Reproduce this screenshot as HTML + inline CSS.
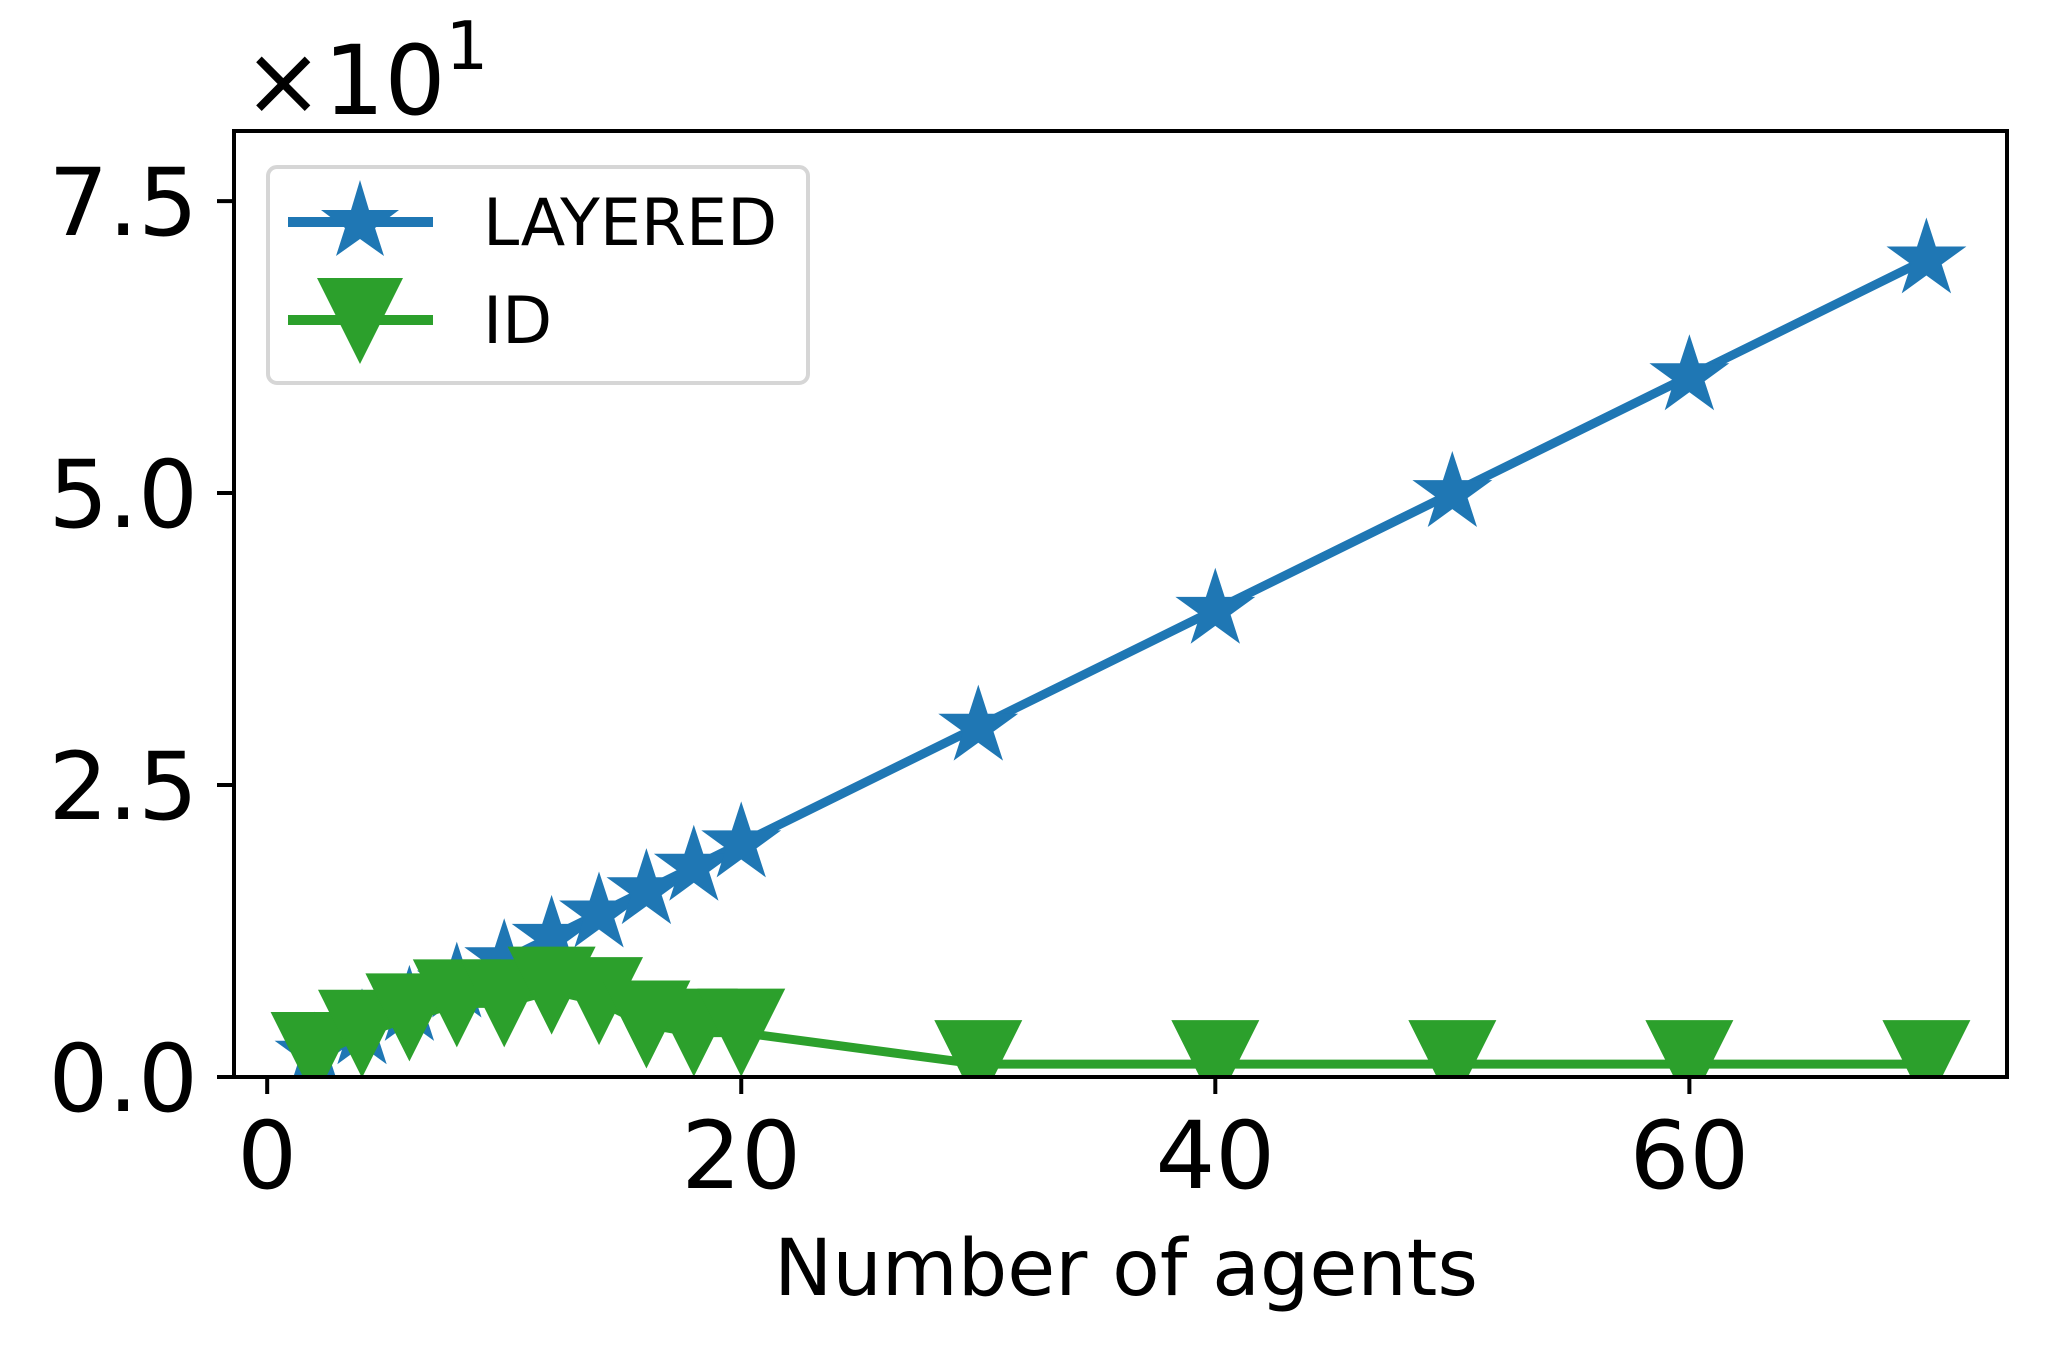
<!DOCTYPE html>
<html><head><meta charset="utf-8"><style>
html,body{margin:0;padding:0;background:#fff}
svg{display:block}
text{font-family:"DejaVu Sans","Liberation Sans",sans-serif;fill:#000}
</style></head><body>
<svg id="chart" width="2048" height="1348" viewBox="0 0 2048 1348" xmlns="http://www.w3.org/2000/svg">
<rect width="2048" height="1348" fill="#fff"/>
<g id="plot"></g>
<g id="axes"></g>
</svg>
<script>
const xValues = [2,4,6,8,10,12,14,16,18,20,30,40,50,60,70];
const layeredValues = [2,4,6,8,10,12,14,16,18,20,30,40,50,60,70];
const idValues = [1.8,3.7,5.1,6.3,6.3,7.4,6.5,4.5,3.8,3.8,1.1,1.1,1.1,1.1,1.1];
const xTicks = [0,20,40,60];
const yTicks = [0,25,50,75];
const yTickLabels = ["0.0","2.5","5.0","7.5"];

const NS="http://www.w3.org/2000/svg";
const L=234,R=2007,T=131,B=1077;
const xMin=-1.4,xMax=73.4,yMin=0,yMax=81;
function sx(v){return L+(v-xMin)/(xMax-xMin)*(R-L);}
function sy(v){return B-(v-yMin)/(yMax-yMin)*(B-T);}
function mk(tag,attrs,parent){const e=document.createElementNS(NS,tag);for(const k in attrs)e.setAttribute(k,attrs[k]);parent.appendChild(e);return e;}
const plot=document.getElementById('plot'), axes=document.getElementById('axes');
const defs=mk('defs',{},plot);
const cp=mk('clipPath',{id:'clip'},defs);mk('rect',{x:L,y:T,width:R-L,height:B-T},cp);
const g=mk('g',{'clip-path':'url(#clip)'},plot);

function starPath(cx,cy,r){let d='';const ri=r*0.381966;for(let i=0;i<10;i++){const a=-Math.PI/2+i*Math.PI/5;const rr=i%2?ri:r;d+=(i?'L':'M')+(cx+rr*Math.cos(a)).toFixed(1)+','+(cy+rr*Math.sin(a)).toFixed(1);}return d+'Z';}
function triPath(cx,cy,h){return `M${cx},${cy+h}L${cx-h},${cy-h}L${cx+h},${cy-h}Z`;}

let pts=xValues.map((x,i)=>sx(x)+','+sy(layeredValues[i])).join(' ');
const l1=mk('polyline',{points:pts,fill:'none',stroke:'#1f77b4','stroke-width':9,'stroke-linejoin':'round'},g);


xValues.forEach((x,i)=>{
  const s=mk('path',{d:starPath(sx(x),sy(layeredValues[i]),42),fill:'#1f77b4'},g);
  
  
});
pts=xValues.map((x,i)=>sx(x)+','+sy(idValues[i])).join(' ');
const l2=mk('polyline',{points:pts,fill:'none',stroke:'#2ca02c','stroke-width':9,'stroke-linejoin':'round'},g);


xValues.forEach((x,i)=>{
  const s=mk('path',{d:triPath(sx(x),sy(idValues[i]),44),fill:'#2ca02c'},g);
  
  
});

const sp=mk('rect',{x:L,y:T,width:R-L,height:B-T,fill:'none',stroke:'#000','stroke-width':4},axes);


xTicks.forEach(v=>{
  const x=sx(v);
  const t=mk('line',{x1:x,y1:B,x2:x,y2:B+17,stroke:'#000','stroke-width':4},axes);
  
  
  const tx=mk('text',{x:x,y:1188,'font-size':94,'text-anchor':'middle'},axes);
  tx.textContent=String(v);
  
  
});
yTicks.forEach((v,i)=>{
  const y=sy(v);
  const t=mk('line',{x1:L-17,y1:y,x2:L,y2:y,stroke:'#000','stroke-width':4},axes);
  
  
  const tx=mk('text',{x:198,y:y+34,'font-size':94,'text-anchor':'end'},axes);
  tx.textContent=yTickLabels[i];
  
  
});
</script>
<svg style="position:absolute;left:0;top:0" width="2048" height="1348" viewBox="0 0 2048 1348" xmlns="http://www.w3.org/2000/svg">
<text x="243" y="114" font-size="96">×10<tspan font-size="67" dy="-45">1</tspan></text>
<text x="1126" y="1295" font-size="78" text-anchor="middle">Number of agents</text>
<g>
<rect x="268" y="167" width="540" height="216" rx="9" fill="#fff" fill-opacity="0.8" stroke="#d6d6d6" stroke-width="4"/>
<g>
<line x1="288" y1="222" x2="433" y2="222" stroke="#1f77b4" stroke-width="10"/>
<path d="M360,180L369,210L399,210L375,228L384,256L360,239L336,256L345,228L321,210L351,210Z" fill="#1f77b4"/>
<text x="483" y="245" font-size="65">LAYERED</text>
</g>
<g>
<line x1="288" y1="320" x2="433" y2="320" stroke="#2ca02c" stroke-width="10"/>
<path d="M360,364L317,278L403,278Z" fill="#2ca02c"/>
<text x="483" y="343" font-size="65">ID</text>
</g>
</g>
</svg>
</body></html>
